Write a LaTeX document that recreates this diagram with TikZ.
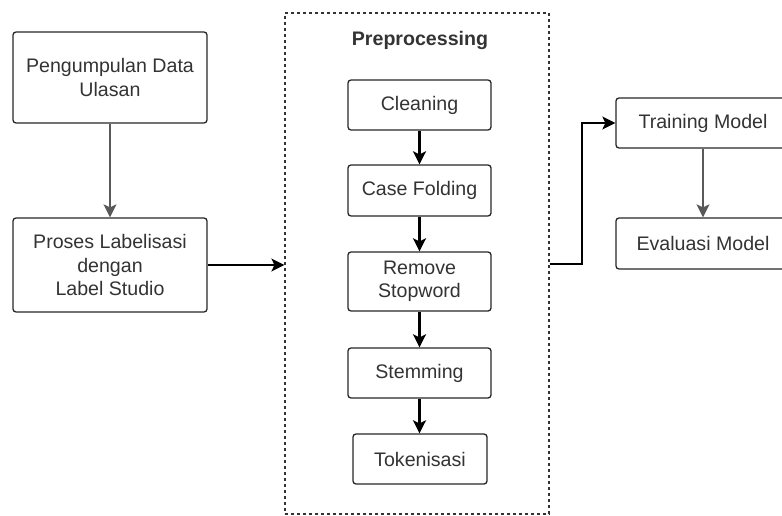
\documentclass[tikz,border=0pt]{standalone}
\usepackage{fontspec}
\setmainfont{Liberation Sans}
\usetikzlibrary{arrows.meta}

\begin{document}
\begin{tikzpicture}[x=1pt,y=-1pt,
    every node/.style={font=\fontsize{19.6}{23.5}\selectfont, text=black!80},
    kotak/.style={draw=black!85, line width=1.3pt, rounded corners=3pt, align=center,
      inner sep=0pt, minimum width=#1},
    kotak/.default=143,
    panah/.style={line width=2.1pt, -{Stealth[length=13pt,width=13pt,inset=3pt]}},
    panahabu/.style={draw=black!65, line width=1.5pt, -{Stealth[length=13pt,width=13pt,inset=3pt]}}]
      \clip (0,0) rectangle (782,516);
      % kolom kiri
      \node[kotak=194, minimum height=91] (kumpul) at (110,77.5) {Pengumpulan Data\\Ulasan};
      \node[kotak=194, minimum height=94] (label) at (110,265) {Proses Labelisasi\\dengan\\Label Studio};
      % preprocessing
      \node[draw=black!80, line width=1.2pt, dash pattern=on 3pt off 3pt,
        minimum width=264, minimum height=501] (prep) at (417,263.5) {};
      \node[font=\fontsize{19.6}{23.5}\selectfont\bfseries] (judul) at (420,40) {Preprocessing};
      \node[kotak, minimum height=50] (clean) at (419.5,105) {Cleaning};
      \node[kotak, minimum height=51] (fold) at (419.5,190.5) {Case Folding};
      \node[kotak, minimum height=59] (stop) at (419.5,281.5) {Remove\\Stopword};
      \node[kotak, minimum height=50] (stem) at (419.5,373) {Stemming};
      \node[kotak=134, minimum height=50] (token) at (420,459) {Tokenisasi};
      % kolom kanan
      \node[kotak=174, minimum height=50] (latih) at (703,123) {Training Model};
      \node[kotak=174, minimum height=51] (eval) at (703,243.5) {Evaluasi Model};
      \coordinate (belok) at (582,264);

      \draw[panahabu] (kumpul) -- (label);
      \draw[panah, line width=1.4pt] (label.east) -- (label.east -| prep.west);
      \foreach \a/\b in {clean/fold, fold/stop, stop/stem, stem/token}
        \draw[panah] (\a.south -| clean) -- (\b.north -| clean);
      \draw[panah, line width=1.4pt] (prep.east |- belok) -- (belok) |- (latih.west);
      \draw[panahabu] (latih) -- (eval);
    \end{tikzpicture}
\end{document}
